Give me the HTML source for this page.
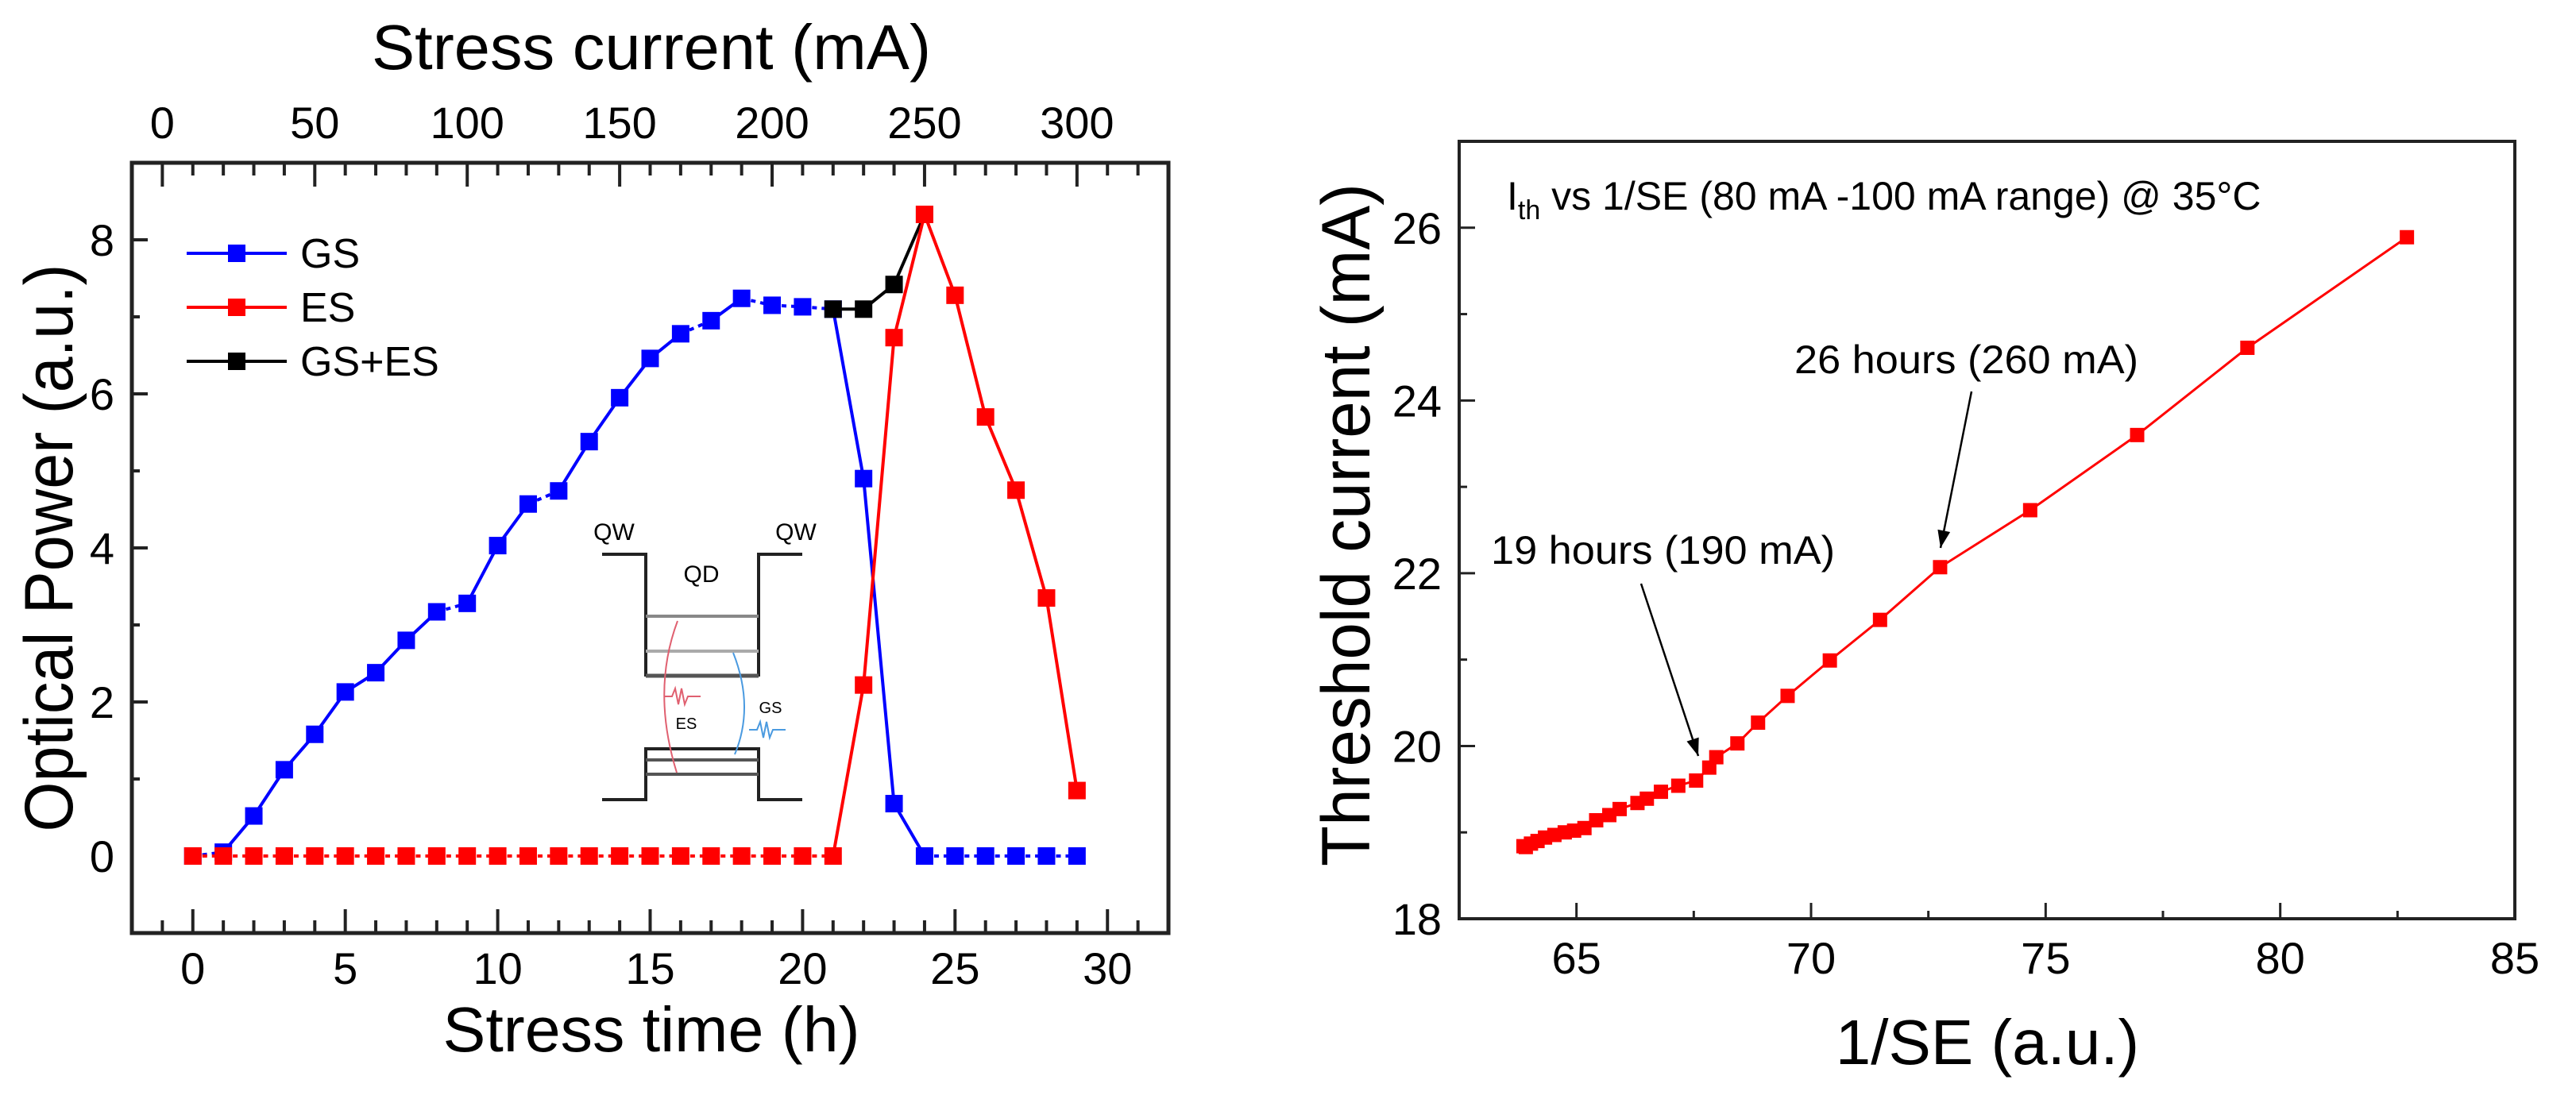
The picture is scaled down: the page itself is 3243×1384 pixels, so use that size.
<!DOCTYPE html>
<html><head><meta charset="utf-8"><style>
html,body{margin:0;padding:0;background:#fff;}
svg{display:block;font-family:"Liberation Sans",Arial,sans-serif;}
</style></head><body>
<svg id="fig" width="3243" height="1384" viewBox="0 0 3243 1384" xmlns="http://www.w3.org/2000/svg">
<rect x="0" y="0" width="3243" height="1384" fill="#fff"/>
<g id="left"></g>
<g id="inset">
  <g stroke="#555" stroke-width="4" fill="none">
    <polyline points="758,698 813,698 813,852" stroke="#222"/>
    <polyline points="1010,698 955,698 955,852" stroke="#222"/>
    <line x1="813" y1="776" x2="955" y2="776" stroke="#888"/>
    <line x1="813" y1="820" x2="955" y2="820" stroke="#aaa"/>
    <line x1="813" y1="851" x2="955" y2="851" stroke-width="5"/>
    <polyline points="758,1007 813,1007 813,943 955,943 955,1007 1010,1007" stroke="#222"/>
    <line x1="813" y1="957" x2="955" y2="957"/>
    <line x1="813" y1="975" x2="955" y2="975"/>
  </g>
  <path d="M853,782 Q820,870 852,973" stroke="#e06070" stroke-width="2" fill="none"/>
  <path d="M923,822 Q950,890 925,950" stroke="#4a9ae0" stroke-width="2" fill="none"/>
  <path d="M836,877 h10 l4,-10 l4,20 l4,-20 l4,20 l4,-10 h16" stroke="#e06070" stroke-width="2" fill="none"/>
  <path d="M943,919 h10 l4,-10 l4,20 l4,-20 l4,20 l4,-10 h16" stroke="#4a9ae0" stroke-width="2" fill="none"/>
  <text x="773" y="680" font-size="30" text-anchor="middle">QW</text>
  <text x="1002" y="680" font-size="30" text-anchor="middle">QW</text>
  <text x="883" y="733" font-size="30" text-anchor="middle">QD</text>
  <text x="864" y="918" font-size="20" text-anchor="middle">ES</text>
  <text x="970" y="898" font-size="20" text-anchor="middle">GS</text>
</g>
<g id="right"></g>
</svg>
<script>
// ---- Left chart data ----
const times = [0,1,2,3,4,5,6,7,8,9,10,11,12,13,14,15,16,17,18,19,20,21,22,23,24,25,26,27,28,29];
const gsValues = [0,0.05,0.52,1.12,1.58,2.13,2.38,2.8,3.17,3.28,4.03,4.57,4.74,5.38,5.95,6.46,6.78,6.95,7.24,7.15,7.13,7.1,4.9,0.68,0,0,0,0,0,0];
const esValues = [0,0,0,0,0,0,0,0,0,0,0,0,0,0,0,0,0,0,0,0,0,0,2.22,6.73,8.33,7.28,5.7,4.75,3.35,0.85];
const gsesTimes = [21,22,23,24];
const gsesValues = [7.1,7.1,7.42,8.33];
const bottomTicks = [0,5,10,15,20,25,30];
const topTicks = [0,50,100,150,200,250,300];
const leftYTicks = [0,2,4,6,8];
// ---- Right chart data ----
const invSE = [63.87,63.92,64.03,64.17,64.33,64.53,64.75,64.95,65.17,65.42,65.7,65.92,66.3,66.5,66.8,67.17,67.55,67.83,67.98,68.43,68.87,69.5,70.4,71.47,72.75,74.67,76.95,79.3,82.7];
const ithValues = [18.84,18.83,18.87,18.9,18.94,18.97,19.0,19.02,19.05,19.14,19.2,19.27,19.34,19.39,19.47,19.54,19.6,19.75,19.87,20.03,20.27,20.58,20.99,21.46,22.07,22.73,23.6,24.61,25.89];
const rightXTicks = [65,70,75,80,85];
const rightYTicks = [18,20,22,24,26];

const NS = "http://www.w3.org/2000/svg";
function mk(parent, tag, attrs, text) {
  const e = document.createElementNS(NS, tag);
  for (const k in attrs) e.setAttribute(k, attrs[k]);
  if (text !== undefined) e.textContent = text;
  parent.appendChild(e);
  return e;
}

// ===== LEFT =====
(function(){
  const g = document.getElementById('left');
  const L=166,R=1471,T=205,B=1175;
  const xT = t => L + (t - (-2)) / 34 * (R - L);
  const xC = c => L + (c - (-10)) / 340 * (R - L);
  const y = v => B - (v - (-1)) / 10 * (B - T);
  // ticks
  for (let t=-1; t<=31; t++) {
    const big = t % 5 === 0;
    const tk = mk(g,'line',{x1:xT(t),x2:xT(t),y1:B,y2:B-(big?30:16),stroke:'#222','stroke-width':4});
    
    
  }
  bottomTicks.forEach(t=>{
    const tx = mk(g,'text',{x:xT(t),y:1239,'font-size':56,'text-anchor':'middle'},String(t));
    
    
  });
  for (let c=0; c<=320; c+=10) {
    const big = c % 50 === 0;
    const tk = mk(g,'line',{x1:xC(c),x2:xC(c),y1:T,y2:T+(big?30:16),stroke:'#222','stroke-width':4});
    
    
  }
  topTicks.forEach(c=>{
    const tx = mk(g,'text',{x:xC(c),y:174,'font-size':56,'text-anchor':'middle'},String(c));
    
    
  });
  for (let v=1; v<=9; v++) {
    const big = v % 2 === 0;
    const tk = mk(g,'line',{x1:L,x2:L+(big?20:10),y1:y(v),y2:y(v),stroke:'#222','stroke-width':4});
    
    
  }
  leftYTicks.forEach(v=>{
    const tx = mk(g,'text',{x:144,y:y(v)+20,'font-size':56,'text-anchor':'end'},String(v));
    
    
  });
  const fr = mk(g,'rect',{x:L,y:T,width:R-L,height:B-T,fill:'none',stroke:'#222','stroke-width':5});
  
  
  // titles
  const t1 = mk(g,'text',{x:820,y:87,'font-size':80,'text-anchor':'middle',textLength:704,lengthAdjust:'spacingAndGlyphs'},'Stress current (mA)');
  
  
  const t2 = mk(g,'text',{x:820,y:1324,'font-size':80,'text-anchor':'middle',textLength:525,lengthAdjust:'spacingAndGlyphs'},'Stress time (h)');
  
  
  const t3 = mk(g,'text',{x:0,y:0,'font-size':86,'text-anchor':'middle',textLength:715,lengthAdjust:'spacingAndGlyphs',transform:'translate(91,690) rotate(-90)'},'Optical Power (a.u.)');
  
  

  function series(xs, vs, color, name, dashFn) {
    for (let i=0;i<xs.length-1;i++){
      const flat = dashFn && dashFn(vs[i],vs[i+1]);
      const ln = mk(g,'line',{x1:xT(xs[i]),y1:y(vs[i]),x2:xT(xs[i+1]),y2:y(vs[i+1]),stroke:color,'stroke-width':4,'stroke-dasharray':flat?'6 6':'none'});
      
      
    }
    xs.forEach((x,i)=>{
      const m = mk(g,'rect',{x:xT(x)-11,y:y(vs[i])-11,width:22,height:22,fill:color});
      
      
    });
  }
  const flatFn = (a,b)=>Math.abs(a-b)<0.2;
  series(times, gsValues, '#0000ff', 'gs', flatFn);
  series(gsesTimes, gsesValues, '#000000', 'gs-es', null);
  series(times, esValues, '#ff0000', 'es', flatFn);

  // legend
  const leg = [['GS','#0000ff',319],['ES','#ff0000',387],['GS+ES','#000',455]];
  leg.forEach(([lab,col,ly])=>{
    const ln = mk(g,'line',{x1:235,x2:361,y1:ly,y2:ly,stroke:col,'stroke-width':4});
    
    
    const m = mk(g,'rect',{x:287,y:ly-11,width:22,height:22,fill:col});
    
    
    const tx = mk(g,'text',{x:378,y:ly+18,'font-size':52},lab);
    
    
  });
})();

// ===== RIGHT =====
(function(){
  const g = document.getElementById('right');
  const L=1837,R=3166,T=178,B=1157;
  const x = v => L + (v - 62.5) / 22.5 * (R - L);
  const y = v => B - (v - 18) / 9 * (B - T);
  for (let v=65; v<85; v+=2.5) {
    const big = v % 5 === 0;
    const tk = mk(g,'line',{x1:x(v),x2:x(v),y1:B,y2:B-(big?20:10),stroke:'#222','stroke-width':3});
    
    
  }
  rightXTicks.forEach(v=>{
    const tx = mk(g,'text',{x:x(v),y:1226,'font-size':56,'text-anchor':'middle'},String(v));
    
    
  });
  for (let v=19; v<27; v++) {
    const big = v % 2 === 0;
    const tk = mk(g,'line',{x1:L,x2:L+(big?20:10),y1:y(v),y2:y(v),stroke:'#222','stroke-width':3});
    
    
  }
  rightYTicks.forEach(v=>{
    const tx = mk(g,'text',{x:1815,y:y(v)+20,'font-size':56,'text-anchor':'end'},String(v));
    
    
  });
  const fr = mk(g,'rect',{x:L,y:T,width:R-L,height:B-T,fill:'none',stroke:'#222','stroke-width':4});
  
  
  const t1 = mk(g,'text',{x:2502,y:1340,'font-size':80,'text-anchor':'middle'},'1/SE (a.u.)');
  
  
  const t2 = mk(g,'text',{x:0,y:0,'font-size':86,'text-anchor':'middle',textLength:860,lengthAdjust:'spacingAndGlyphs',transform:'translate(1724,661) rotate(-90)'},'Threshold current (mA)');
  
  
  // line
  const pts = invSE.map((v,i)=>x(v)+','+y(ithValues[i])).join(' ');
  const pl = mk(g,'polyline',{points:pts,fill:'none',stroke:'#ff0000','stroke-width':3});
  
  
  invSE.forEach((v,i)=>{
    const m = mk(g,'rect',{x:x(v)-9,y:y(ithValues[i])-9,width:18,height:18,fill:'#ff0000'});
    
    
  });
  // annotations
  const a = mk(g,'text',{x:1897,y:264,'font-size':50},'');
  
  
  mk(a,'tspan',{},'I');
  mk(a,'tspan',{'font-size':34,dy:12},'th');
  mk(a,'tspan',{dy:-12},' vs 1/SE (80 mA -100 mA range) @ 35°C');
  const a2 = mk(g,'text',{x:2259,y:470,'font-size':50,textLength:433,lengthAdjust:'spacingAndGlyphs'},'26 hours (260 mA)');
  
  
  const a3 = mk(g,'text',{x:1877,y:710,'font-size':50,textLength:433,lengthAdjust:'spacingAndGlyphs'},'19 hours (190 mA)');
  
  
  function arrow(x1,y1,x2,y2,name){
    const ln = mk(g,'line',{x1:x1,y1:y1,x2:x2,y2:y2,stroke:'#000','stroke-width':2.5});
    
    
    const ang = Math.atan2(y2-y1,x2-x1), s=22, w=8;
    const bx = x2 - s*Math.cos(ang), by = y2 - s*Math.sin(ang);
    const p = mk(g,'polygon',{points:`${x2},${y2} ${bx+w*Math.sin(ang)},${by-w*Math.cos(ang)} ${bx-w*Math.sin(ang)},${by+w*Math.cos(ang)}`,fill:'#000'});
    
    
  }
  arrow(2482,493,2443,690,'arrow-26-hours');
  arrow(2066,735,2138,952,'arrow-19-hours');
})();
</script>
</body></html>
